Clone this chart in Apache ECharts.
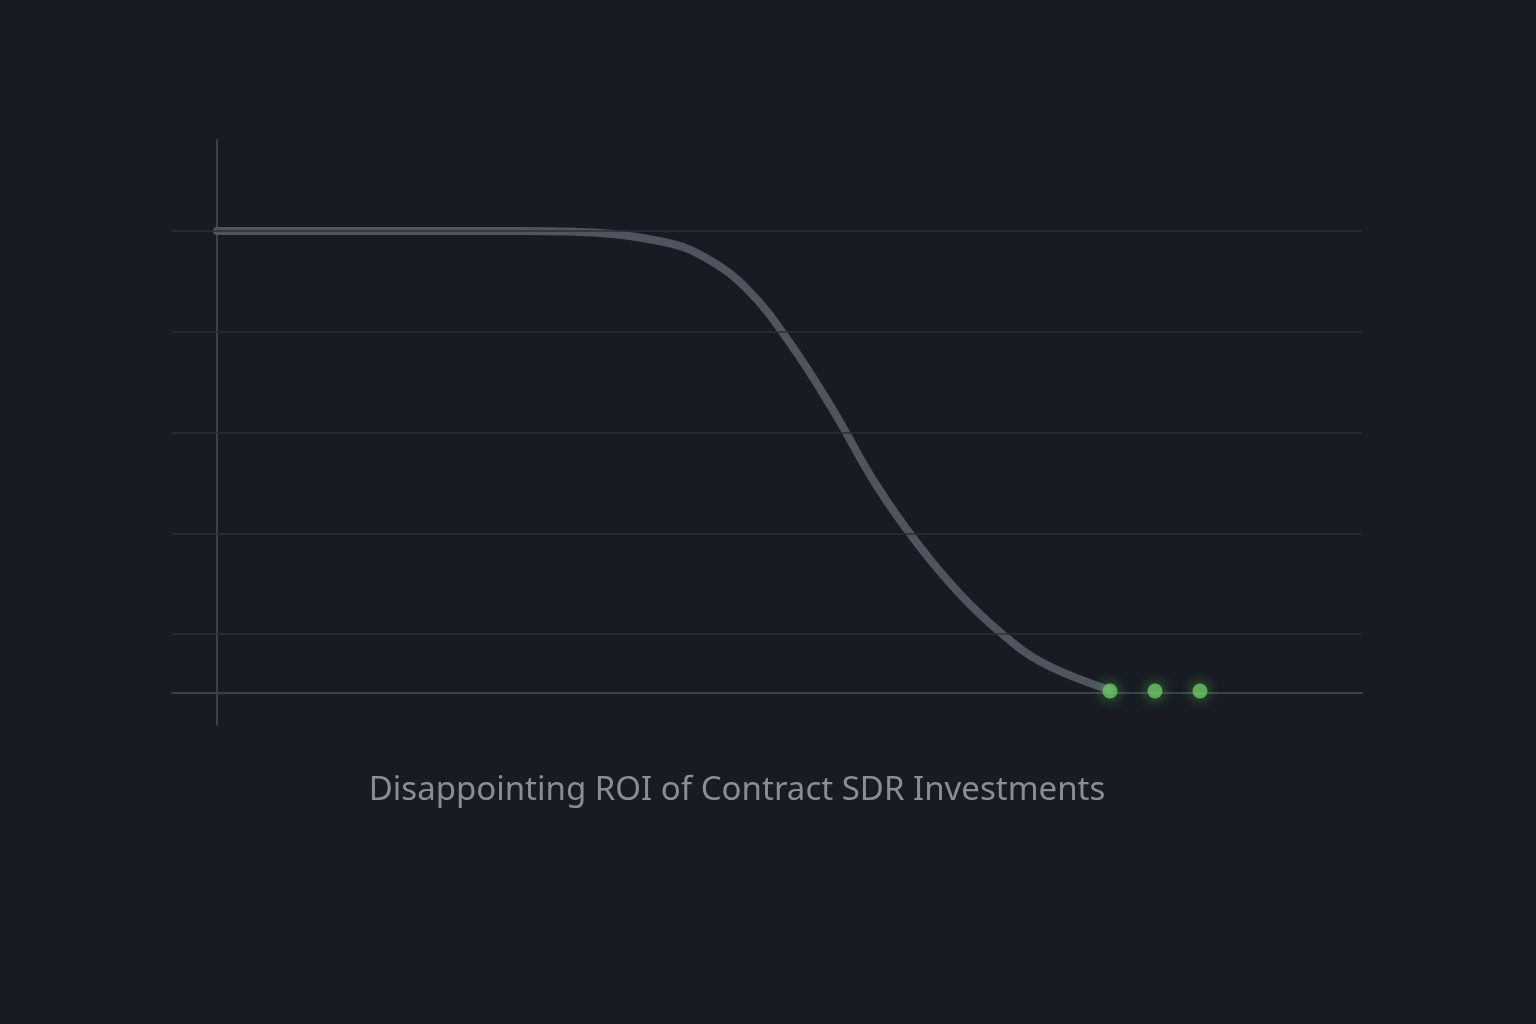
<!DOCTYPE html>
<html>
<head>
<meta charset="utf-8">
<script src="https://cdn.jsdelivr.net/npm/echarts@6/dist/echarts.min.js"></script>
<style>html,body{margin:0;background:#181b23;}#chart{width:1536px;height:1024px;}</style>
</head>
<body>
<div id="chart"></div>
<script>
// curve points: [x, y]
const curveX = [0, 300, 363, 447, 489, 531, 573, 616, 658, 700, 742, 784, 826, 893];
const curveY = [462, 462, 461, 451, 435, 403, 350, 283, 210, 150, 100, 60, 30, 3];
const dotsX = [893, 938, 983];
const dotsY = [2, 2, 2];
const gridValues = [462, 361, 260, 159, 59];
const title = 'Disappointing ROI of Contract SDR Investments';

let myChart = echarts.init(document.getElementById('chart'));
let option = {
    backgroundColor: '#181b23',
    animation: false,
    title: {
        text: title,
        left: 732, top: 769, textAlign: 'center',
        textStyle: { color: '#8a8d94', fontSize: 33, fontWeight: 400, fontFamily: 'Noto Sans' }
    },
    grid: { left: 172, right: 174, top: 140, bottom: 299 },
    xAxis: {
        type: 'value', min: -45, max: 1145,
        axisLine: { onZero: true, lineStyle: { color: '#3c4049', width: 2 } },
        axisTick: { show: false }, axisLabel: { show: false }, splitLine: { show: false }
    },
    yAxis: {
        type: 'value', min: -32, max: 553,
        axisLine: { show: true, onZero: true, lineStyle: { color: '#3c4049', width: 2 } },
        axisTick: { show: false }, axisLabel: { show: false }, splitLine: { show: false }
    },
    series: [
        {
            type: 'line', symbol: 'none', data: [],
            markLine: {
                silent: true, symbol: 'none', label: { show: false },
                lineStyle: { color: '#2b2f37', width: 1.5, type: 'solid' },
                data: gridValues.map(v => ({ yAxis: v }))
            },
            z: 1
        },
        {
            type: 'line', smooth: 0.4, symbol: 'none',
            data: curveX.map((x, i) => [x, curveY[i]]),
            lineStyle: { color: '#4f545e', width: 8, cap: 'round' },
            z: 2
        },
        {
            type: 'scatter', symbolSize: 15,
            data: dotsX.map((x, i) => [x, dotsY[i]]),
            itemStyle: { color: '#6cc466', shadowColor: 'rgba(90,210,90,0.8)', shadowBlur: 14 },
            z: 3
        }
    ]
};
myChart.setOption(option);
</script>
</body>
</html>
